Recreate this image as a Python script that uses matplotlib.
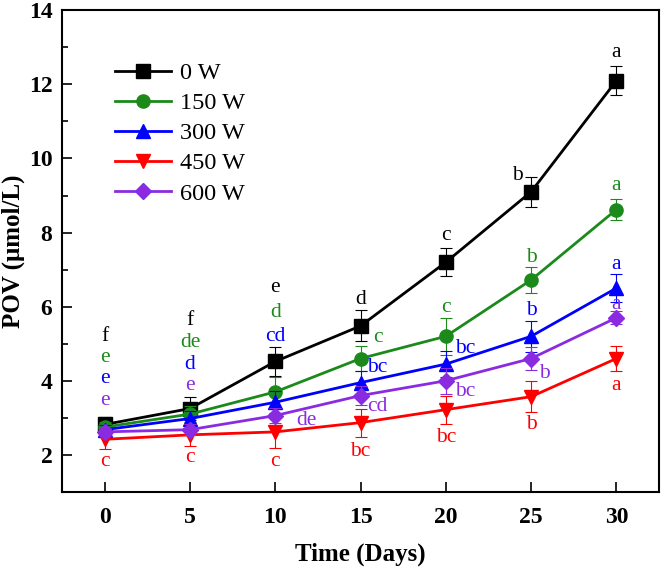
import numpy as np
import matplotlib
matplotlib.use('Agg')
import matplotlib.pyplot as plt

plt.rcParams['font.family'] = ['Liberation Serif', 'DejaVu Serif']

# ----------------------------- data ----------------------------- #
days = [0, 5, 10, 15, 20, 25, 30]
labels = ['0 W', '150 W', '300 W', '450 W', '600 W']

pov_0 = [2.82, 3.25, 4.52, 5.48, 7.20, 9.10, 12.10]
pov_150 = [2.75, 3.10, 3.70, 4.60, 5.20, 6.72, 8.62]
pov_300 = [2.68, 2.98, 3.42, 3.95, 4.45, 5.20, 6.50]
pov_450 = [2.42, 2.54, 2.62, 2.87, 3.22, 3.57, 4.60]
pov_600 = [2.62, 2.68, 3.06, 3.60, 4.00, 4.60, 5.70]

err_0 = [0.20, 0.30, 0.38, 0.42, 0.38, 0.40, 0.40]
err_150 = [0.15, 0.22, 0.40, 0.35, 0.50, 0.35, 0.28]
err_300 = [0.12, 0.20, 0.30, 0.30, 0.35, 0.42, 0.38]
err_450 = [0.27, 0.30, 0.43, 0.38, 0.38, 0.42, 0.35]
err_600 = [0.10, 0.15, 0.20, 0.25, 0.35, 0.30, 0.18]

sig_0 = ['f', 'f', 'e', 'd', 'c', 'b', 'a']
sig_150 = ['e', 'de', 'd', 'c', 'c', 'b', 'a']
sig_300 = ['e', 'd', 'cd', 'bc', 'bc', 'b', 'a']
sig_450 = ['c', 'c', 'c', 'bc', 'bc', 'b', 'a']
sig_600 = ['e', 'e', 'de', 'cd', 'bc', 'b', 'a']
# ---------------------------------------------------------------- #

# where each letter goes (data coords)
sig_pos_0 = [(0, 5.19), (5, 5.62), (10, 6.53), (15, 6.18), (20, 7.91), (24.2, 9.55), (30, 12.87)]
sig_pos_150 = [(0, 4.62), (5, 5.02), (10, 5.83), (16.0, 5.16), (20, 5.97), (25, 7.32), (30, 9.26)]
sig_pos_300 = [(0, 4.05), (5, 4.43), (10, 5.19), (16.0, 4.35), (21.15, 4.86), (25, 5.89), (30, 7.15)]
sig_pos_450 = [(0, 1.82), (5, 1.92), (10, 1.82), (15, 2.09), (20, 2.46), (25, 2.81), (30, 3.87)]
sig_pos_600 = [(0, 3.46), (5, 3.87), (11.8, 2.92), (16.0, 3.30), (21.15, 3.70), (25.8, 4.19), (30, 6.05)]

series = [
    (pov_0, err_0, sig_0, sig_pos_0, 'black', 's'),
    (pov_150, err_150, sig_150, sig_pos_150, '#1b8a1b', 'o'),
    (pov_300, err_300, sig_300, sig_pos_300, '#0000ff', '^'),
    (pov_450, err_450, sig_450, sig_pos_450, '#ff0000', 'v'),
    (pov_600, err_600, sig_600, sig_pos_600, '#8a2be2', 'D'),
]

fig = plt.figure(figsize=(6.61, 5.70), dpi=100)
ax = fig.add_axes([0.094, 0.137, 0.903, 0.845])

for (y, e, sig, pos, col, mk), lab in zip(series, labels):
    ax.errorbar(days, y, yerr=e, fmt='none', ecolor=col,
                elinewidth=0.8, capsize=4, capthick=0.8)
    ax.plot(days, y, color=col, marker=mk, markersize=9.5 if mk != 'D' else 8,
            linewidth=2, label=lab)
    for s, (px, py) in zip(sig, pos):
        ax.text(px, py, s, color=col, fontsize=15.5, ha='center', va='center')

ax.set_xlim(-2.5, 32.5)
ax.set_ylim(1, 14)
ax.set_xticks(days)
ax.set_yticks([2, 4, 6, 8, 10, 12, 14])
ax.set_yticks([3, 5, 7, 9, 11, 13], minor=True)
ax.tick_params(direction='in', length=7, width=1.2, labelsize=17)
ax.tick_params(axis='x', pad=11)
ax.tick_params(axis='y', pad=7)
ax.tick_params(which='minor', direction='in', length=4, width=1.2)
for lbl in ax.get_xticklabels() + ax.get_yticklabels():
    lbl.set_fontweight('bold')
for sp in ax.spines.values():
    sp.set_linewidth(1.5)

ax.set_xlabel('Time (Days)', fontsize=18, fontweight='bold')
ax.set_ylabel('POV (μmol/L)', fontsize=18, fontweight='bold')
ax.xaxis.set_label_coords(0.5, -0.106)
ax.yaxis.set_label_coords(-0.063, 0.5)

leg = ax.legend(loc='upper left', bbox_to_anchor=(0.072, 0.912), frameon=False,
                fontsize=17.5, handlelength=2.3, handletextpad=0.4,
                labelspacing=0.33, borderaxespad=0)

fig.savefig('out.png', dpi=100)
